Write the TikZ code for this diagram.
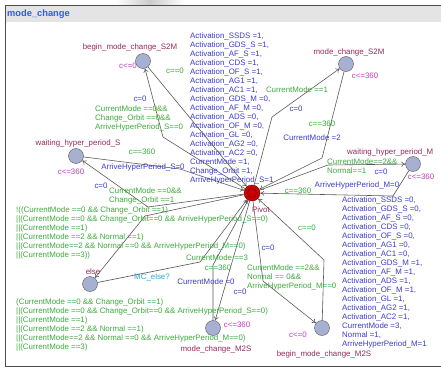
\documentclass[tikz,border=0pt]{standalone}
\usepackage{fontspec}
\setmainfont{Liberation Sans}
\usetikzlibrary{arrows.meta}

\definecolor{locfill}{RGB}{168,176,210}
\definecolor{locname}{RGB}{150,40,90}
\definecolor{invcol}{RGB}{190,60,190}
\definecolor{grdcol}{RGB}{60,170,60}
\definecolor{updcol}{RGB}{60,60,200}
\definecolor{syncol}{RGB}{40,170,200}
\definecolor{titlecol}{RGB}{50,90,230}
\definecolor{headcol}{RGB}{228,228,228}

\tikzset{
  loc/.style={circle, draw=black!65, fill=locfill, minimum size=15pt, inner sep=0pt},
  lname/.style={text=locname, inner sep=0pt},
  inv/.style={text=invcol, inner sep=0pt},
  grd/.style={text=grdcol, inner sep=0pt, align=left},
  upd/.style={text=updcol, inner sep=0pt, align=left},
  syn/.style={text=syncol, inner sep=0pt},
  edge/.style={draw=black!65, line width=0.6pt, -{To[length=4pt,width=5pt]}}
}

\begin{document}
\begin{tikzpicture}[x=1pt, y=-1pt, font=\fontsize{7.9}{9}\selectfont]

    \useasboundingbox (0,0) rectangle (441,369);
    \shade[left color=white, right color=white, middle color=black!20] (115,0) rectangle (185,4.5);
    \fill[headcol] (6,6) rectangle (441,22);
    \draw[black!70, line width=1.3pt] (441,5.5) -- (5.5,5.5) -- (5.5,366.5) -- (441,366.5);
    \node (title) [anchor=west, text=titlecol, inner sep=0pt, font=\fontsize{9.3}{10}\selectfont\bfseries] at (7,14) {mode\_change};

    \node (piv) [circle, draw=red!45!black, fill=red!80!black, minimum size=16pt, inner sep=0pt] at (252,193) {};
    \draw[red!40!black] (piv.center) circle (4.5pt);
    \node (bS2M) [loc] at (143,61) {};
    \node (S2M) [loc] at (346,64) {};
    \node (wS) [loc] at (76,156) {};
    \node (wM) [loc] at (413,164) {};
    \node (els) [loc] at (90,284) {};
    \node (M2S) [loc] at (213,328) {};
    \node (bM2S) [loc] at (322,328) {};

    \draw[edge] (bS2M) -- (piv);
    \draw[edge] (piv) -- (163,137) -- (bS2M);
    \draw[edge] (piv) -- (272,117) -- (S2M);
    \draw[edge] (S2M) -- (322,158) -- (piv);
    \draw[edge] (piv) -- (328,165) -- (wM);
    \draw[edge] (wM) -- (393,196) -- (piv);
    \draw[edge] (bM2S) -- (324,260) -- (piv);
    \draw[edge] (piv) -- (263,281) -- (bM2S);
    \draw[edge] (piv) -- (M2S);
    \draw[edge] (M2S) -- (213,265) -- (piv);
    \draw[edge] (els) -- (200,262) -- (piv);
    \draw[edge] (piv) -- (145,216) -- (els);
    \draw[edge] (piv) -- (148,207) -- (wS);
    \draw[edge] (wS) -- (180,169) -- (piv);

    \node (nbS2M) [lname] at (130,47) {begin\_mode\_change\_S2M};
    \node (ibS2M) [inv] at (128,66) {c<=0};
    \node (nS2M) [lname] at (349,52) {mode\_change\_S2M};
    \node (iS2M) [inv] at (365,76) {c<=360};
    \node (nwS) [lname] at (78,143) {waiting\_hyper\_period\_S};
    \node (iwS) [inv] at (71,172) {c<=360};
    \node (nwM) [lname, anchor=west] at (347,152) {waiting\_hyper\_period\_M};
    \node (iwM) [inv] at (421,177) {c<=360};
    \node (npiv) [lname] at (261,210) {Pivot};
    \node (nels) [lname] at (93,272) {else};
    \node (nM2S) [lname] at (216,349) {mode\_change\_M2S};
    \node (iM2S) [inv] at (237,325) {c<=360};
    \node (nbM2S) [lname] at (324,354) {begin\_mode\_change\_M2S};
    \node (ibM2S) [inv] at (298,335) {c<=0};

    \node (g1) [grd] at (175,71) {c==0};
    \node (u1) [upd, anchor=north west] at (190,33) {Activation\_SSDS =1,\\Activation\_GDS\_S =1,\\Activation\_AF\_S =1,\\Activation\_CDS =1,\\Activation\_OF\_S =1,\\Activation\_AG1 =1,\\Activation\_AC1 =1,\\Activation\_GDS\_M =0,\\Activation\_AF\_M =0,\\Activation\_ADS =0,\\Activation\_OF\_M =0,\\Activation\_GL =0,\\Activation\_AG2 =0,\\Activation\_AC2 =0,\\CurrentMode =1,\\Change\_Orbit =1,\\ArriveHyperPeriod\_S=1};
    \node (u2) [upd] at (140,99) {c=0};
    \node (g2) [grd, anchor=north west] at (95,106) {CurrentMode ==0\&\&\\Change\_Orbit ==0\&\&\\ArriveHyperPeriod\_S==0};
    \node (g3) [grd] at (297,90) {CurrentMode ==1};
    \node (u3) [upd] at (296,109) {c=0};
    \node (g4) [grd] at (322,124) {c==360};
    \node (u4) [upd] at (312,138) {CurrentMode =2};
    \node (g5) [grd, anchor=north west] at (327,159) {CurrentMode==2\&\&\\Normal==1};
    \node (u5) [upd] at (381,172) {c=0};
    \node (u6) [upd] at (357,185) {ArriveHyperPeriod\_M=0};
    \node (g6) [grd] at (298,191) {c==360};
    \node (g7) [grd] at (142,152) {c==360};
    \node (u7) [upd] at (143,167) {ArriveHyperPeriod\_S=0};
    \node (u8) [upd] at (101,186) {c=0};
    \node (g8) [grd, anchor=north west] at (109,188) {CurrentMode ==0\&\&\\Change\_Orbit ==1};
    \node (g9) [grd, anchor=north west] at (16,207) {!((CurrentMode ==0 \&\& Change\_Orbit ==1)\\||(CurrentMode ==0 \&\& Change\_Orbit==0 \&\& ArriveHyperPeriod\_S==0)\\||(CurrentMode ==1)\\||(CurrentMode ==2 \&\& Normal ==1)\\||(CurrentMode==2 \&\& Normal ==0 \&\& ArriveHyperPeriod\_M==0)\\||(CurrentMode ==3))};
    \node (g10) [grd, anchor=north west] at (16,299) {(CurrentMode ==0 \&\& Change\_Orbit ==1)\\||(CurrentMode ==0 \&\& Change\_Orbit==0 \&\& ArriveHyperPeriod\_S==0)\\||(CurrentMode ==1)\\||(CurrentMode ==2 \&\& Normal ==1)\\||(CurrentMode==2 \&\& Normal ==0 \&\& ArriveHyperPeriod\_M==0)\\||(CurrentMode ==3)};
    \node (s10) [syn] at (152,277) {MC\_else?};
    \node (g11) [grd] at (217,258) {CurrentMode ==3};
    \node (g12) [grd] at (218,268) {c==360};
    \node (u12) [upd] at (206,282) {CurrentMode =0};
    \node (u11) [upd] at (240,292) {c=0};
    \node (u13) [upd] at (268,248) {c=0};
    \node (g13) [grd, anchor=north west] at (247,265) {CurrentMode ==2\&\&\\Normal == 0\&\&\\ArriveHyperPeriod\_M==0};
    \node (g14) [grd] at (307,228) {c==0};
    \node (u14) [upd, anchor=north west] at (342,197) {Activation\_SSDS =0,\\Activation\_GDS\_S =0,\\Activation\_AF\_S =0,\\Activation\_CDS =0,\\Activation\_OF\_S =0,\\Activation\_AG1 =0,\\Activation\_AC1 =0,\\Activation\_GDS\_M =1,\\Activation\_AF\_M =1,\\Activation\_ADS =1,\\Activation\_OF\_M =1,\\Activation\_GL =1,\\Activation\_AG2 =1,\\Activation\_AC2 =1,\\CurrentMode =3,\\Normal =1,\\ArriveHyperPeriod\_M=1};

\end{tikzpicture}
\end{document}
